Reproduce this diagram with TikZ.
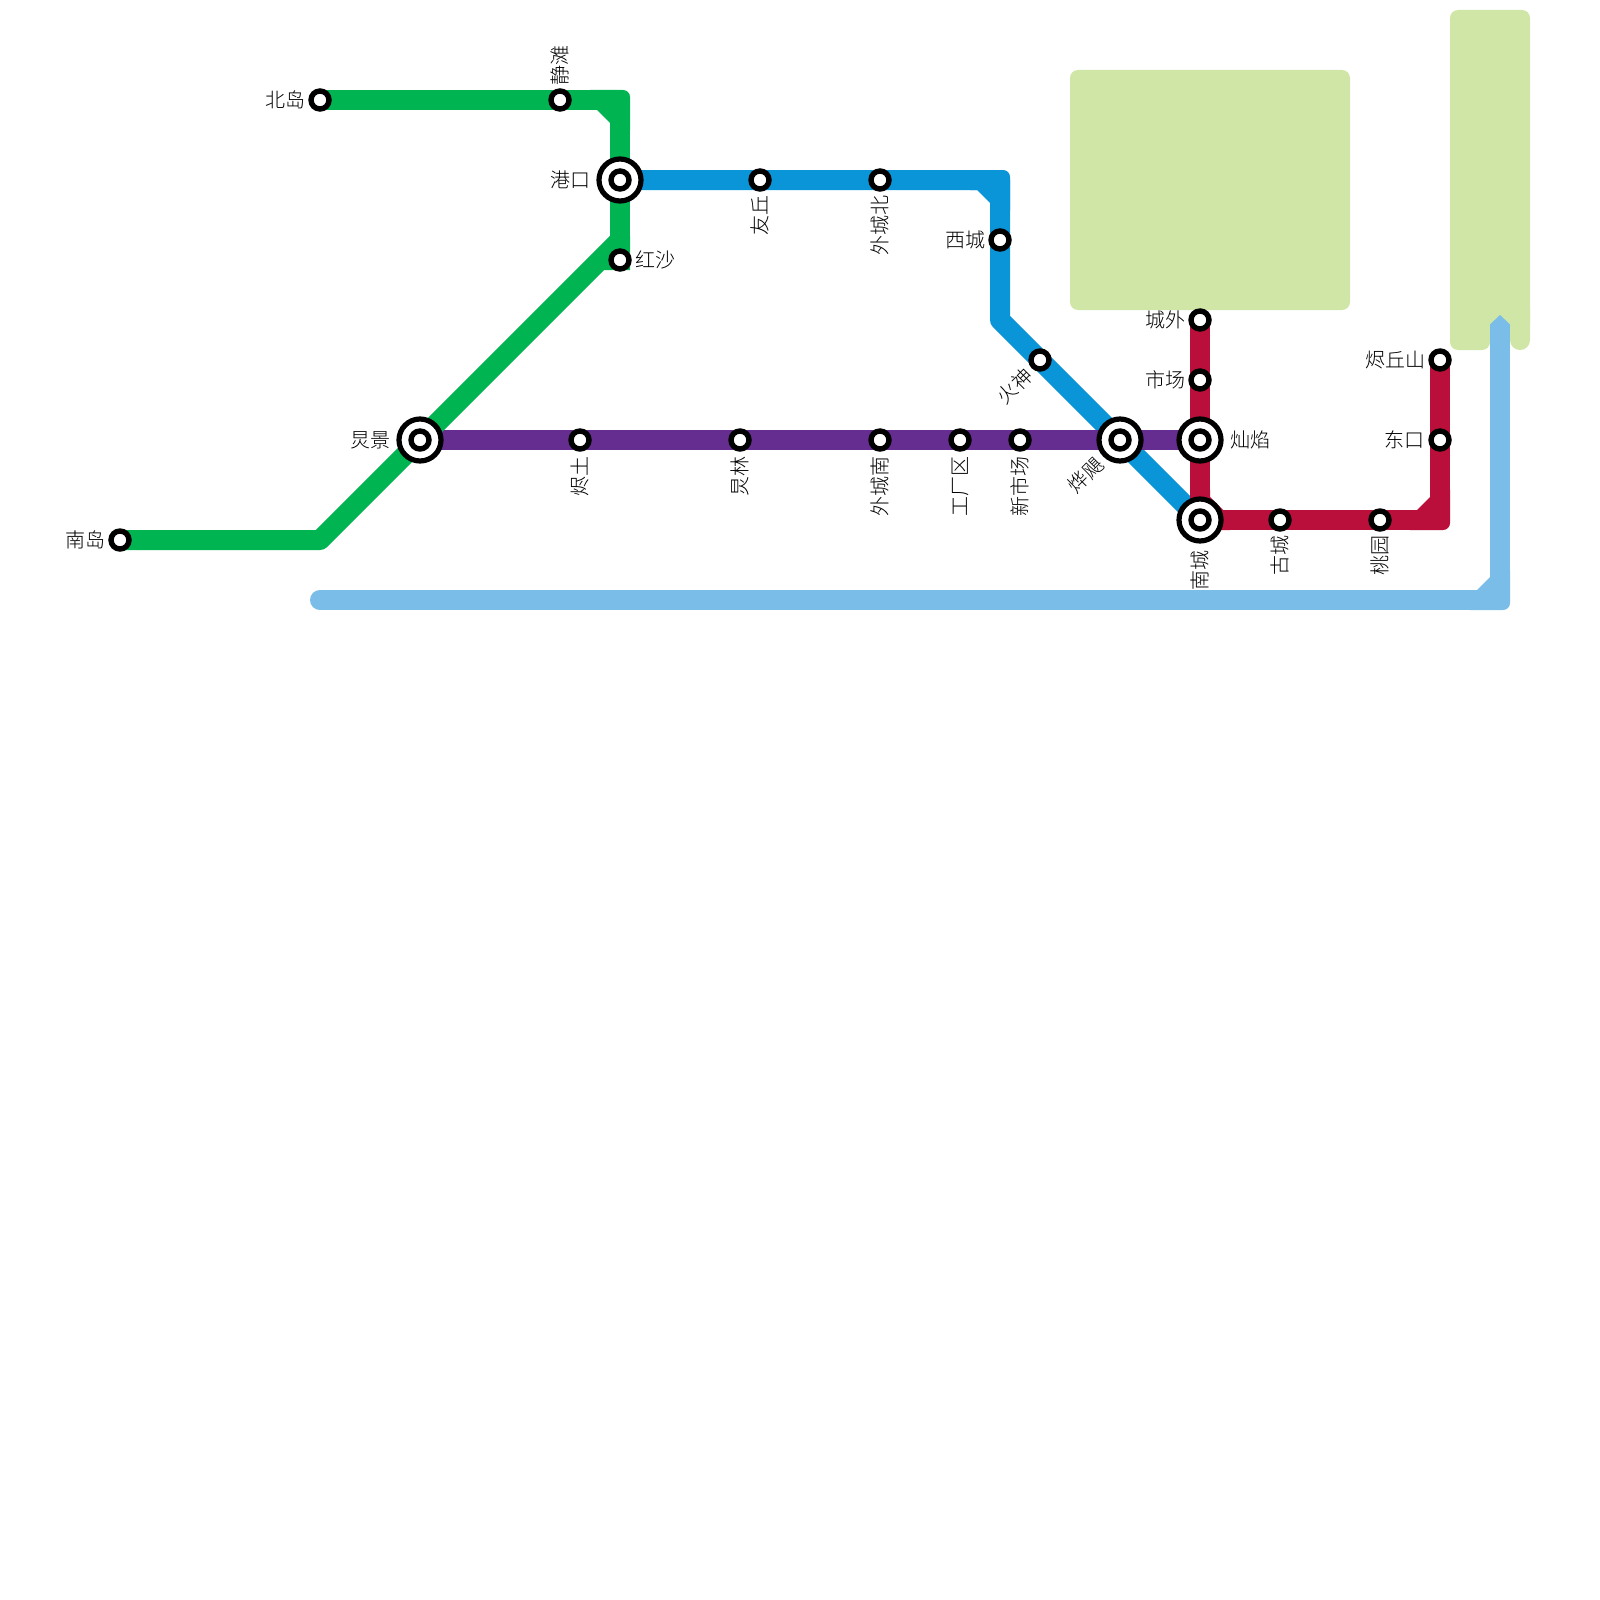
\documentclass[tikz,border=0pt]{standalone}
\usepackage{fontspec}
\setmainfont{Noto Sans CJK SC Light}
\definecolor{lgreen}{HTML}{00B451}
\definecolor{lblue}{HTML}{0A95D9}
\definecolor{lpurple}{HTML}{662D91}
\definecolor{lred}{HTML}{BA0F3A}
\definecolor{lsky}{HTML}{7ABDE9}
\definecolor{park}{HTML}{D0E6A6}
\tikzset{
  metro/.style={line width=20pt,line join=bevel,line cap=butt},
  stn/.style={circle,draw=black,fill=white,line width=5.4pt,minimum size=18pt,inner sep=0pt},
  hub/.style={circle,draw=black,fill=white,line width=5.2pt,minimum size=42pt,inner sep=0pt},
  lab/.style={inner sep=0pt,font=\fontsize{20}{24}\selectfont,text=black},
  labv/.style={lab,rotate=90},
  labd/.style={lab,rotate=45,anchor=east}
}
\begin{document}
\begin{tikzpicture}[x=1pt,y=-1pt]
\useasboundingbox (0,0) rectangle (1600,1600);
% positions
\coordinate (beidao) at (320,100);
\coordinate (jingtan) at (560,100);
\coordinate (gNE) at (620,100);
\coordinate (gangkou) at (620,180);
\coordinate (hongsha) at (620,260);
\coordinate (gS) at (620,240);
\coordinate (jiongjing) at (420,440);
\coordinate (gSW) at (320,540);
\coordinate (nandao) at (120,540);
\coordinate (youqiu) at (760,180);
\coordinate (waibei) at (880,180);
\coordinate (bNE) at (1000,180);
\coordinate (xicheng) at (1000,240);
\coordinate (bSW) at (1000,320);
\coordinate (huoshen) at (1040,360);
\coordinate (yeju) at (1120,440);
\coordinate (nancheng) at (1200,520);
\coordinate (canyan) at (1200,440);
\coordinate (chengwai) at (1200,320);
\coordinate (shichang) at (1200,380);
\coordinate (gucheng) at (1280,520);
\coordinate (taoyuan) at (1380,520);
\coordinate (rSE) at (1440,520);
\coordinate (dongkou) at (1440,440);
\coordinate (jinqiu) at (1440,360);
\coordinate (jintu) at (580,440);
\coordinate (jionglin) at (740,440);
\coordinate (wainan) at (880,440);
\coordinate (gongchang) at (960,440);
\coordinate (xinshi) at (1020,440);
\coordinate (skyW) at (320,600);
\coordinate (skySE) at (1500,600);
\coordinate (skyN) at (1500,324);
% parks
\fill[park,rounded corners=8pt] (1070,70) rectangle (1350,310);
\fill[park,rounded corners=8pt] (1450,10) rectangle (1530,330);
\fill[park,rounded corners=8pt] (1450,300) rectangle (1490,350);
\fill[park,rounded corners=9.9pt] (1510,300) rectangle (1530,350);
% light blue line
\draw[metro,lsky] (skyW) -- (skySE) -- (skyN);
\fill[lsky] (skyW) circle (10pt);
\fill[lsky] (1490,324.5) -- (1500,315) -- (1510,324.5) -- cycle;
\fill[lsky] (1490,570) -- (1510,570) [rounded corners=7pt] -- (1510,610) [sharp corners] -- (1470,610) -- (1470,590) -- (1477,590) -- (1490,577) -- cycle;
% blue line
\draw[metro,lblue,line join=round] (gangkou) -- (bNE) -- (bSW) -- (nancheng);
\fill[lblue] (970,170) [rounded corners=7pt] -- (1010,170) [sharp corners] -- (1010,210) -- (990,210) -- (990,203) -- (977,190) -- (970,190) -- cycle;
% purple line
\draw[metro,lpurple] (jiongjing) -- (canyan);
% red line
\draw[metro,lred] (chengwai) -- (nancheng) -- (rSE) -- (jinqiu);
\fill[lred] (1210,490) -- (1210,497) -- (1223,510) -- (1230,510) -- (1230,530) -- (1210,530) -- cycle;
\fill[lred] (1410,510) -- (1417,510) -- (1430,497) -- (1430,490) -- (1450,490) [rounded corners=7pt] -- (1450,530) [sharp corners] -- (1410,530) -- cycle;
% green line
\draw[metro,lgreen] (beidao) -- (gNE) -- (hongsha);
\draw[metro,lgreen,line join=round] (gS) -- (gSW) -- (nandao);
\fill[lgreen] (590,90) [rounded corners=7pt] -- (630,90) [sharp corners] -- (630,130) -- (610,130) -- (610,123) -- (597,110) -- (590,110) -- cycle;
\fill[lgreen] (610,236) -- (630,236) -- (630,270) -- (604,270) -- cycle;
% stations
\foreach \s in {beidao,jingtan,hongsha,nandao,youqiu,waibei,xicheng,huoshen,chengwai,shichang,gucheng,taoyuan,dongkou,jinqiu,jintu,jionglin,wainan,gongchang,xinshi}
  \node[stn] (st-\s) at (\s) {};
\foreach \s in {gangkou,jiongjing,yeju,nancheng,canyan}{
  \node[hub] (hub-\s) at (\s) {};
  \node[stn] (st-\s) at (\s) {};
}
% labels
\node[lab,anchor=east] (l1) at (306,100) {北岛};
\node[labv,anchor=west] (l2) at (560,86) {静滩};
\node[lab,anchor=east] (l3) at (591,180) {港口};
\node[lab,anchor=west] (l4) at (635,260) {红沙};
\node[lab,anchor=east] (l5) at (391,440) {炅景};
\node[lab,anchor=east] (l6) at (106,540) {南岛};
\node[labv,anchor=east] (l7) at (760,195) {友丘};
\node[labv,anchor=east] (l8) at (880,195) {外城北};
\node[lab,anchor=east] (l9) at (986,240) {西城};
\node[labd] (l10) at (1029,372) {火神};
\node[labd] (l11) at (1100,461) {烨飓};
\node[labv,anchor=east] (l12) at (1200,550) {南城};
\node[lab,anchor=west] (l13) at (1230,440) {灿焰};
\node[lab,anchor=east] (l14) at (1186,320) {城外};
\node[lab,anchor=east] (l15) at (1186,380) {市场};
\node[labv,anchor=east] (l16) at (1280,535) {古城};
\node[labv,anchor=east] (l17) at (1380,535) {桃园};
\node[lab,anchor=east] (l18) at (1425,440) {东口};
\node[lab,anchor=east] (l19) at (1426,360) {烬丘山};
\node[labv,anchor=east] (l20) at (580,456) {烬土};
\node[labv,anchor=east] (l21) at (740,456) {炅林};
\node[labv,anchor=east] (l22) at (880,456) {外城南};
\node[labv,anchor=east] (l23) at (960,456) {工厂区};
\node[labv,anchor=east] (l24) at (1020,456) {新市场};
\end{tikzpicture}
\end{document}
